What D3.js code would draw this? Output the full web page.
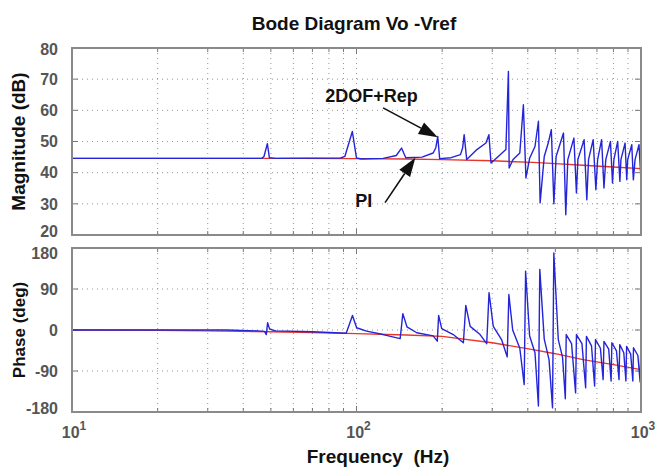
<!DOCTYPE html>
<html>
<head>
<meta charset="utf-8">
<script src="https://cdn.jsdelivr.net/npm/d3@7"></script>
<style>
  body { margin: 0; background: #fff; }
  text { font-family: "Liberation Sans", Arial, sans-serif; font-weight: bold; }
</style>
</head>
<body>
<svg id="chart" width="655" height="467"></svg>
<script>
// ---- data ----
const freqDomain = [10, 1000];
const freqTickExp = [1, 2, 3];
const magTicks = [20, 30, 40, 50, 60, 70, 80];
const phaseTicks = [-180, -90, 0, 90, 180];

// PI controller (red)
const piFreq  = [10, 20, 30, 50, 63, 100, 150, 200, 300, 417, 500, 625, 800, 1000];
const piMag   = [44.6, 44.6, 44.6, 44.6, 44.6, 44.5, 44.4, 44.2, 43.8, 43.3, 42.9, 42.4, 41.8, 41.3];
const piPhase = [0, -0.5, -2, -4, -5, -8, -11, -14, -28, -43, -52, -65, -76, -87];

// 2DOF + repetitive controller (blue), [Hz, dB]
const repMag = [
  [10, 44.6], [46.5, 44.6], [47.3, 45.2], [48.6, 49.3], [49.4, 44.8], [52, 44.6],
  [88, 44.7], [91, 45.2], [96.7, 53.2], [100, 44.7], [104, 44.4], [124, 44.6],
  [138, 45.5], [144, 47.9], [149, 44.8], [170, 45], [186, 46.3], [190, 48], [193, 51.6], [196, 44.5],
  [215, 44.8], [232, 45.8], [236, 47.9], [239, 52.2], [244, 44.2],
  [265, 47.4], [285, 49.5], [292, 52.2], [297, 43.1],
  [315, 45.2], [335, 47.4], [342, 72.5], [344, 41.5],
  [355, 44.2], [375, 46.3], [386, 61.8], [394, 38.3],
  [406, 44.6], [424, 48.4], [436, 56.5], [442, 30.3],
  [457, 45.2], [472, 49.5], [484, 53.8], [494, 30],
  [503, 45.2], [534, 52.7], [544, 26.5],
  [553, 44.2], [581, 51.1], [593, 33.5],
  [600, 44.2], [631, 50.6], [645, 31.3],
  [654, 44.2], [679, 50.6], [694, 34.5],
  [704, 44.2], [727, 50.6], [741, 35.1],
  [752, 44.2], [781, 50], [794, 36.7],
  [803, 44.2], [828, 50], [843, 37.2],
  [850, 44.2], [879, 49.5], [891, 37.7],
  [898, 44.2], [928, 49], [940, 37.7],
  [953, 44.2], [984, 49], [1000, 37.7]
];

// 2DOF + repetitive controller (blue), [Hz, deg]
const repPhase = [
  [10, 0], [35, 0], [45, -2], [47.5, -3], [48.2, -10], [48.7, 16], [49.5, 2], [52, -2],
  [70, -4], [92, -7], [96.8, 32], [100.1, 5], [108.5, -2.6], [124, -10], [142.4, -19],
  [145.5, 36], [150.4, 7], [162.9, -6], [186, -13], [192.3, -24.5],
  [194.4, 32], [199.3, 3], [218.8, -10], [237.5, -28],
  [242.2, 54], [250.9, 8], [271.9, -10], [286.9, -30],
  [292.3, 82], [302.5, 8], [323.5, -21], [338.6, -59],
  [343.2, 78], [354, 0], [375, -40], [388.5, -120],
  [393, 129], [406, -13], [424, -50], [436, -167],
  [440.8, 133], [457, -20], [475, -65], [488.7, -171],
  [493.8, 169], [512, -21], [530, -60], [542, -151],
  [546, -10], [570, -30], [589, -138],
  [593, -10], [620, -30], [639, -127],
  [643, -14], [670, -35], [687, -123],
  [692, -21], [720, -40], [736, -109],
  [741, -25], [770, -42], [785, -112],
  [790, -28], [820, -46], [837, -109],
  [842, -32], [870, -50], [885, -112],
  [890, -36], [920, -53], [936, -112],
  [941, -39], [975, -56], [993, -114],
  [998, -43], [1000, -45]
];

// annotations: [Hz, dB] for text anchor, arrow tail, arrow tip
const noteRep = { label: "2DOF+Rep", text: [113, 62.8], tail: [124, 60.8], tip: [193, 51.4] };
const notePI  = { label: "PI", text: [106, 29.0], tail: [126, 30.4], tip: [161, 44.8] };

// ---- layout ----
const plotL = 72, plotR = 641;
const magTop = 48, magBot = 235;
const phTop = 248, phBot = 412;

const svg = d3.select("#chart");

const x = d3.scaleLog().domain(freqDomain).range([plotL, plotR]);
const yMag = d3.scaleLinear().domain([20, 80]).range([magBot, magTop]);
const yPh = d3.scaleLinear().domain([-180, 180]).range([phBot, phTop]);

const xGrid = x.ticks().filter(d => d > freqDomain[0] && d < freqDomain[1]);

function panel(id, y, yTicks, top, bot, label, labelSize, nudgeTop) {
  const g = svg.append("g");

  g.append("rect")
    .attr("x", plotL).attr("y", top)
    .attr("width", plotR - plotL).attr("height", bot - top)
    .attr("fill", "#fff");

  svg.append("clipPath").attr("id", id)
    .append("rect")
    .attr("x", plotL).attr("y", top)
    .attr("width", plotR - plotL).attr("height", bot - top);

  // dotted grid
  g.selectAll(".vgrid").data(xGrid).enter().append("line")
    .attr("x1", d => x(d)).attr("x2", d => x(d))
    .attr("y1", top).attr("y2", bot)
    .attr("stroke", "#949494").attr("stroke-width", 1)
    .attr("stroke-dasharray", "1,4");
  g.selectAll(".hgrid").data(yTicks.slice(1, -1)).enter().append("line")
    .attr("x1", plotL).attr("x2", plotR)
    .attr("y1", d => y(d)).attr("y2", d => y(d))
    .attr("stroke", "#949494").attr("stroke-width", 1)
    .attr("stroke-dasharray", "1,4");

  // inner ticks on all four sides
  x.ticks().forEach(d => {
    const len = freqTickExp.some(e => Math.pow(10, e) === d) ? 6 : 4;
    g.append("line").attr("x1", x(d)).attr("x2", x(d)).attr("y1", top).attr("y2", top + len)
      .attr("stroke", "#777");
    g.append("line").attr("x1", x(d)).attr("x2", x(d)).attr("y1", bot).attr("y2", bot - len)
      .attr("stroke", "#777");
  });
  yTicks.forEach(d => {
    g.append("line").attr("x1", plotL).attr("x2", plotL + 6).attr("y1", y(d)).attr("y2", y(d))
      .attr("stroke", "#777");
    g.append("line").attr("x1", plotR).attr("x2", plotR - 6).attr("y1", y(d)).attr("y2", y(d))
      .attr("stroke", "#777");
  });

  // y tick labels (end labels pulled inward a little, as in the reference)
  const lo = yTicks[0], hi = yTicks[yTicks.length - 1];
  g.selectAll(".ylab").data(yTicks).enter().append("text")
    .attr("x", plotL - 14)
    .attr("y", d => y(d) + (d === lo ? -4 : d === hi ? nudgeTop : 0))
    .attr("dy", "0.36em")
    .attr("text-anchor", "end")
    .attr("font-size", 16)
    .attr("fill", "#555")
    .text(d => d);

  // y axis title
  g.append("text")
    .attr("transform", `translate(25,${(top + bot) / 2}) rotate(-90)`)
    .attr("text-anchor", "middle")
    .attr("font-size", labelSize)
    .attr("fill", "#111")
    .text(label);

  return g;
}

function frame(top, bot) {
  svg.append("rect")
    .attr("x", plotL).attr("y", top)
    .attr("width", plotR - plotL).attr("height", bot - top)
    .attr("fill", "none").attr("stroke", "#8a8a8a").attr("stroke-width", 2);
}

// ---- magnitude panel ----
const gMag = panel("clipMag", yMag, magTicks, magTop, magBot, "Magnitude (dB)", 19, 1);

const lineMagPI = d3.line().x((d, i) => x(piFreq[i])).y(d => yMag(d));
const lineRep = (y) => d3.line().x(d => x(d[0])).y(d => y(d[1]));

gMag.append("g").attr("clip-path", "url(#clipMag)").call(c => {
  c.append("path").datum(piMag)
    .attr("d", lineMagPI)
    .attr("fill", "none").attr("stroke", "#e8352a").attr("stroke-width", 1.4);
  c.append("path").datum(repMag)
    .attr("d", lineRep(yMag))
    .attr("fill", "none").attr("stroke", "#2424d8").attr("stroke-width", 1.4)
    .attr("stroke-linejoin", "round");
});
frame(magTop, magBot);

// ---- phase panel ----
const gPh = panel("clipPh", yPh, phaseTicks, phTop, phBot, "Phase (deg)", 17, 5);

const linePhPI = d3.line().x((d, i) => x(piFreq[i])).y(d => yPh(d));

gPh.append("g").attr("clip-path", "url(#clipPh)").call(c => {
  c.append("path").datum(piPhase)
    .attr("d", linePhPI)
    .attr("fill", "none").attr("stroke", "#e8352a").attr("stroke-width", 1.4);
  c.append("path").datum(repPhase)
    .attr("d", lineRep(yPh))
    .attr("fill", "none").attr("stroke", "#2424d8").attr("stroke-width", 1.4)
    .attr("stroke-linejoin", "round");
});
frame(phTop, phBot);

// ---- x tick labels (10^n) ----
freqTickExp.forEach(e => {
  const t = svg.append("text")
    .attr("x", x(Math.pow(10, e)) + 2).attr("y", 438)
    .attr("text-anchor", "middle")
    .attr("font-size", 16)
    .attr("fill", "#555");
  t.append("tspan").text("10");
  t.append("tspan").attr("dy", -8).attr("font-size", 12).text(e);
});

// ---- titles ----
svg.append("text")
  .attr("x", 354).attr("y", 30)
  .attr("text-anchor", "middle")
  .attr("font-size", 19)
  .attr("fill", "#111")
  .text("Bode Diagram Vo -Vref");

svg.append("text")
  .attr("x", 378).attr("y", 463)
  .attr("text-anchor", "middle")
  .attr("font-size", 19)
  .attr("fill", "#111")
  .attr("xml:space", "preserve")
  .style("white-space", "pre")
  .text("Frequency  (Hz)");

// ---- annotations with arrows ----
function annotate(note) {
  const tx = x(note.text[0]), ty = yMag(note.text[1]);
  svg.append("text")
    .attr("x", tx).attr("y", ty)
    .attr("text-anchor", "middle")
    .attr("font-size", 18)
    .attr("fill", "#111")
    .text(note.label);

  const x0 = x(note.tail[0]), y0 = yMag(note.tail[1]);
  const x1 = x(note.tip[0]), y1 = yMag(note.tip[1]);
  const ang = Math.atan2(y1 - y0, x1 - x0);
  const headLen = 19, headW = 6.5;
  const bx = x1 - headLen * Math.cos(ang), by = y1 - headLen * Math.sin(ang);

  svg.append("line")
    .attr("x1", x0).attr("y1", y0).attr("x2", bx).attr("y2", by)
    .attr("stroke", "#111").attr("stroke-width", 1.6);
  svg.append("path")
    .attr("d", d3.line()([
      [x1, y1],
      [bx + headW * Math.sin(ang), by - headW * Math.cos(ang)],
      [bx - headW * Math.sin(ang), by + headW * Math.cos(ang)]
    ]) + "Z")
    .attr("fill", "#111");
}
annotate(noteRep);
annotate(notePI);
</script>
</body>
</html>
